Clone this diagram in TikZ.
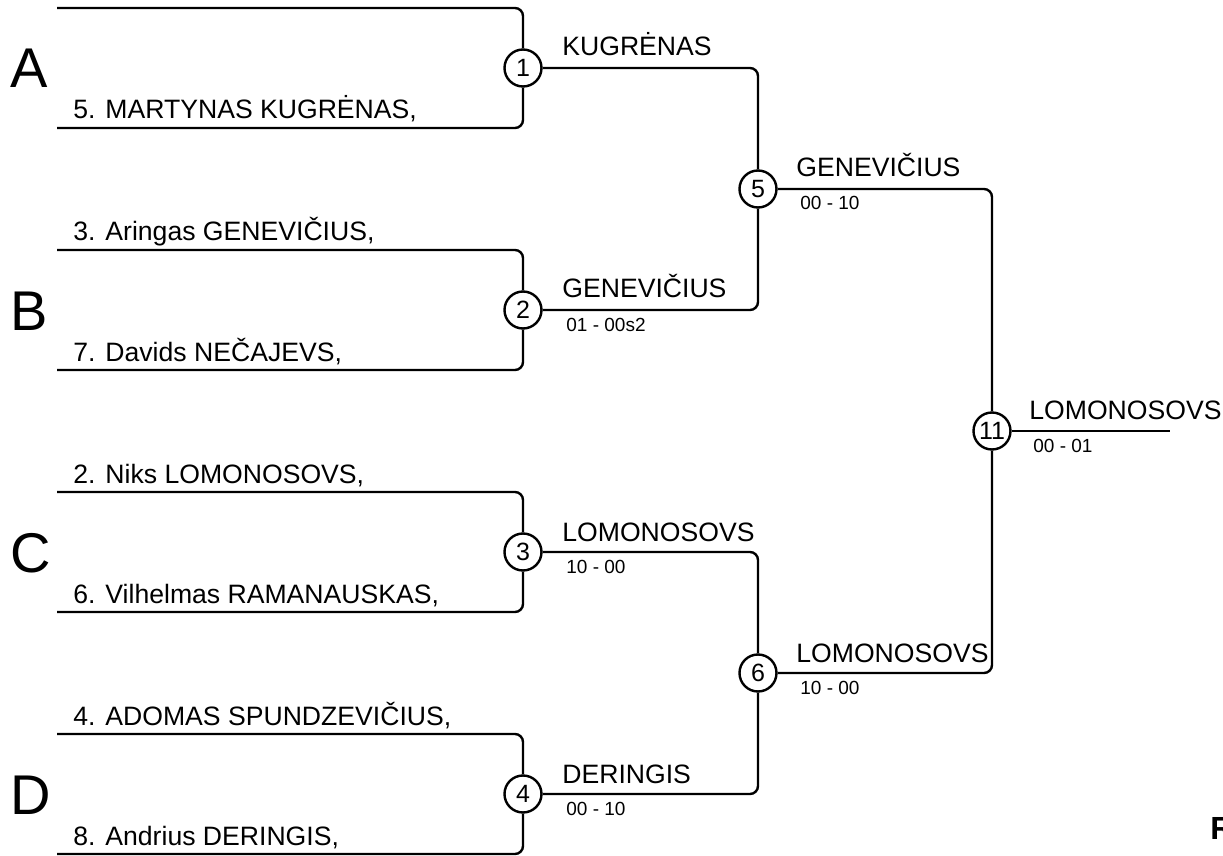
\documentclass[tikz,border=0pt]{standalone}
\usepackage{fontspec}
\setmainfont{Liberation Sans}
\usetikzlibrary{positioning}

\begin{document}
\begin{tikzpicture}[x=0.5pt, y=-0.5pt,
  every node/.style={font=\fontsize{13.3}{15}\selectfont},
  match/.style={circle, draw, line width=1.2pt, fill=white, minimum size=18.5pt,
                inner sep=0pt, font=\fontsize{12.5}{14}\selectfont},
  bline/.style={line width=1.2pt, rounded corners=4pt},
  player/.style={anchor=base west, inner sep=0pt},
  winner/.style={anchor=base west, inner sep=0pt},
  score/.style={anchor=base west, inner sep=0pt, font=\fontsize{9.5}{11}\selectfont},
  group/.style={anchor=base west, inner sep=0pt, font=\fontsize{28}{32}\selectfont}
]
\useasboundingbox (0,0) rectangle (1223,856);

% first round brackets
\foreach \k/\g in {1/A,2/B,3/C,4/D} {
  \pgfmathsetmacro{\ytop}{8+242*(\k-1)}
  \coordinate (t\k) at (57,\ytop);
  \coordinate (b\k) at (57,\ytop+120);
  \node[match] (m\k) at (523,\ytop+60) {\k};
  \draw[bline] (t\k) -| (m\k);
  \draw[bline] (b\k) -| (m\k);
  \node[group] (g\k) at (10,\ytop+80) {\g};
}

% later rounds
\node[match] (m5)  at (758,189) {5};
\node[match] (m6)  at (758,673) {6};
\node[match] (m11) at (992,431) {11};
\coordinate (final) at (1170,431);

\draw[bline] (m1) -| (m5);
\draw[bline] (m2) -| (m5);
\draw[bline] (m3) -| (m6);
\draw[bline] (m4) -| (m6);
\draw[bline] (m5) -| (m11);
\draw[bline] (m6) -| (m11);
\draw[bline] (m11) -- (final);

% players
\node[player] (p1b) at (73,119) {5. MARTYNAS KUGRĖNAS,};
\node[player] (p2t) at (73,241) {3. Aringas GENEVIČIUS,};
\node[player] (p2b) at (73,361) {7. Davids NEČAJEVS,};
\node[player] (p3t) at (73,483) {2. Niks LOMONOSOVS,};
\node[player] (p3b) at (73,603) {6. Vilhelmas RAMANAUSKAS,};
\node[player] (p4t) at (73,725) {4. ADOMAS SPUNDZEVIČIUS,};
\node[player] (p4b) at (73,845) {8. Andrius DERINGIS,};

% winners and scores
\node[winner] (w1) at (562,56) {KUGRĖNAS};
\node[winner] (w2) at (562,298) {GENEVIČIUS};
\node[score]  (s2) at (566,331) {01 - 00s2};
\node[winner] (w3) at (562,541) {LOMONOSOVS};
\node[score]  (s3) at (566,573) {10 - 00};
\node[winner] (w4) at (562,783) {DERINGIS};
\node[score]  (s4) at (566,815) {00 - 10};
\node[winner] (w5) at (796,177) {GENEVIČIUS};
\node[score]  (s5) at (800,210) {00 - 10};
\node[winner] (w6) at (796,662) {LOMONOSOVS};
\node[score]  (s6) at (800,694) {10 - 00};
\node[winner] (w11) at (1029,419) {LOMONOSOVS};
\node[score]  (s11) at (1033,452) {00 - 01};

\node[anchor=base west, inner sep=0pt, font=\bfseries\fontsize{16}{18}\selectfont] (r) at (1210,839) {R};
\end{tikzpicture}
\end{document}
